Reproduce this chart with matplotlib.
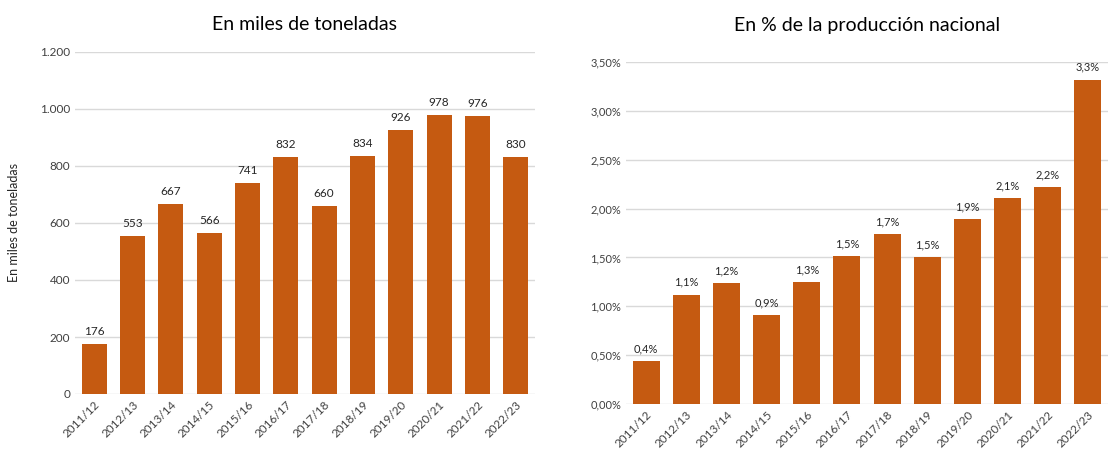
import matplotlib.pyplot as plt
import matplotlib.ticker as ticker

campaigns = ['2011/12', '2012/13', '2013/14', '2014/15', '2015/16', '2016/17',
             '2017/18', '2018/19', '2019/20', '2020/21', '2021/22', '2022/23']
miles_t = [176, 553, 667, 566, 741, 832, 660, 834, 926, 978, 976, 830]
pct_nac = [0.44, 1.12, 1.24, 0.91, 1.25, 1.51, 1.74, 1.50, 1.89, 2.11, 2.22, 3.32]
pct_labels = ['0,4%', '1,1%', '1,2%', '0,9%', '1,3%', '1,5%', '1,7%', '1,5%',
              '1,9%', '2,1%', '2,2%', '3,3%']

color = '#C55A11'
plt.rcParams['font.family'] = ['Lato', 'DejaVu Sans']


def style_axes(ax):
    for s in ax.spines.values():
        s.set_visible(False)
    ax.yaxis.grid(True, color='#D9D9D9', linewidth=1)
    ax.set_axisbelow(True)
    ax.tick_params(length=0, labelsize=8.5, colors='#404040')
    ax.set_xlim(-0.5, len(campaigns) - 0.5)
    ax.set_xticks(range(len(campaigns)))
    ax.set_xticklabels(campaigns, rotation=45, ha='right',
                       rotation_mode='anchor', fontsize=8.5)


fig = plt.figure(figsize=(11.10, 4.54), dpi=100)

ax1 = fig.add_axes([75 / 1110, 60 / 454, 460 / 1110, 342 / 454])
ax1.bar(range(len(campaigns)), miles_t, width=0.65, color=color)
ax1.set_ylim(0, 1200)
ax1.yaxis.set_major_locator(ticker.MultipleLocator(200))
ax1.yaxis.set_major_formatter(ticker.FuncFormatter(
    lambda v, p: f'{int(v):,}'.replace(',', '.')))
style_axes(ax1)
for i, v in enumerate(miles_t):
    ax1.text(i, v + 25, str(v), ha='center', va='bottom', fontsize=8.5,
             color='#262626')
ax1.set_ylabel('En miles de toneladas', fontsize=9, color='#262626', labelpad=14)
ax1.set_title('En miles de toneladas', fontsize=14, pad=16)

ax2 = fig.add_axes([626 / 1110, 50 / 454, 482 / 1110, 342 / 454])
ax2.bar(range(len(campaigns)), pct_nac, width=0.67, color=color)
ax2.set_ylim(0, 3.5)
ax2.yaxis.set_major_locator(ticker.MultipleLocator(0.5))
ax2.yaxis.set_major_formatter(ticker.FuncFormatter(
    lambda v, p: f'{v:.2f}%'.replace('.', ',')))
style_axes(ax2)
ax2.tick_params(axis='y', labelsize=8)
for i, v in enumerate(pct_nac):
    ax2.text(i, v + 0.07, pct_labels[i], ha='center', va='bottom', fontsize=8,
             color='#262626')
ax2.set_title('En % de la producción nacional', fontsize=14, pad=22)

fig.savefig('out.png', dpi=100)
